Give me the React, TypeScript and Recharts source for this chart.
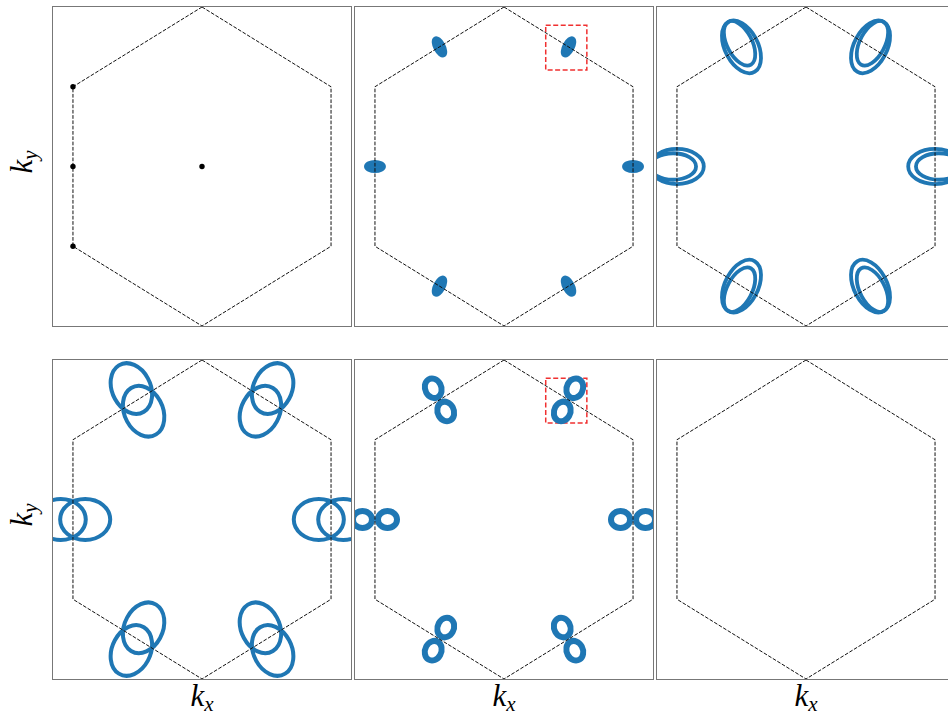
import React from 'react';
import { ScatterChart, Scatter, XAxis, YAxis, ReferenceArea } from 'recharts';

const PANEL_W = 298;
const PANEL_H = 319;
const BLUE = '#1f77b4';

// Brillouin zone boundary, kx and ky in units of the zone radius
const hexagon = [
  { x: 0, y: 1 },
  { x: 0.866, y: 0.5 },
  { x: 0.866, y: -0.5 },
  { x: 0, y: -1 },
  { x: -0.866, y: -0.5 },
  { x: -0.866, y: 0.5 },
  { x: 0, y: 1 },
];

// Gamma, K, M and K' markers
const highSymmetry = [
  { x: 0, y: 0 },
  { x: -0.866, y: 0.5 },
  { x: -0.866, y: 0 },
  { x: -0.866, y: -0.5 },
];

// zone-edge midpoints and their radial direction (deg)
const mPoints = [
  { x: 0.866, y: 0, dir: 0 },
  { x: 0.433, y: 0.75, dir: 60 },
  { x: -0.433, y: 0.75, dir: 120 },
  { x: -0.866, y: 0, dir: 180 },
  { x: -0.433, y: -0.75, dir: 240 },
  { x: 0.433, y: -0.75, dir: 300 },
];

// pocket contours around each M point: radial shift, radial / tangential semi-axes
const pocketsB = [{ shift: 0, a: 0.06, b: 0.028 }];
const pocketsC = [
  { shift: 0, a: 0.18, b: 0.11 },
  { shift: 0.026, a: 0.154, b: 0.083 },
];
const pocketsD = [
  { shift: -0.082, a: 0.168, b: 0.128 },
  { shift: 0.082, a: 0.168, b: 0.128 },
];
const pocketsE = [
  { shift: -0.084, a: 0.064, b: 0.054 },
  { shift: 0.084, a: 0.064, b: 0.054 },
];

const zoomBox = { x1: 0.28, x2: 0.556, y1: 0.605, y2: 0.885 };

const panels = [
  { left: 53, top: 7, pockets: [], lw: 4, filled: false, dots: true, box: false },
  { left: 355, top: 7, pockets: pocketsB, lw: 4, filled: true, dots: false, box: true },
  { left: 657, top: 7, pockets: pocketsC, lw: 3.8, filled: false, dots: false, box: false },
  { left: 53, top: 360, pockets: pocketsD, lw: 4, filled: false, dots: false, box: false },
  { left: 355, top: 360, pockets: pocketsE, lw: 6, filled: false, dots: false, box: true },
  { left: 657, top: 360, pockets: [], lw: 4, filled: false, dots: false, box: false },
];

const buildPockets = (pockets: { shift: number; a: number; b: number }[]) =>
  mPoints.flatMap((m) =>
    pockets.map((p) => {
      const t = (m.dir * Math.PI) / 180;
      return { x: m.x + p.shift * Math.cos(t), y: m.y + p.shift * Math.sin(t), a: p.a, b: p.b, dir: m.dir };
    })
  );

const makeEllipse = (lw: number, filled: boolean) => (props: any) => {
  const { cx, cy, payload } = props;
  if (cx == null || cy == null) return <g />;
  const sx = PANEL_W / 2;
  const sy = PANEL_H / 2;
  return (
    <ellipse
      cx={0}
      cy={0}
      rx={payload.a}
      ry={payload.b}
      transform={`translate(${cx} ${cy}) scale(${sx} ${-sy}) rotate(${payload.dir})`}
      fill={filled ? BLUE : 'none'}
      stroke={BLUE}
      strokeWidth={lw}
      vectorEffect="non-scaling-stroke"
    />
  );
};

const Dot = (props: any) => <circle cx={props.cx} cy={props.cy} r={2.7} fill="#000" />;

function Panel({ cfg }: { cfg: (typeof panels)[number] }) {
  const data = buildPockets(cfg.pockets);
  return (
    <div
      style={{
        position: 'absolute',
        left: cfg.left,
        top: cfg.top,
        width: PANEL_W,
        height: PANEL_H,
        outline: '1px solid #777',
        overflow: 'hidden',
        background: '#fff',
      }}
    >
      <ScatterChart width={PANEL_W} height={PANEL_H} margin={{ top: 0, right: 0, bottom: 0, left: 0 }}>
        <XAxis type="number" dataKey="x" domain={[-1, 1]} allowDataOverflow hide />
        <YAxis type="number" dataKey="y" domain={[-1, 1]} allowDataOverflow hide />
        {data.length > 0 && (
          <Scatter data={data} shape={makeEllipse(cfg.lw, cfg.filled)} isAnimationActive={false} />
        )}
        <Scatter
          data={hexagon}
          line={{ stroke: '#111', strokeWidth: 1, strokeDasharray: '3.7 1.6' }}
          lineType="joint"
          shape={() => <g />}
          isAnimationActive={false}
        />
        {cfg.dots && <Scatter data={highSymmetry} shape={Dot} isAnimationActive={false} />}
        {cfg.box && (
          <ReferenceArea
            x1={zoomBox.x1}
            x2={zoomBox.x2}
            y1={zoomBox.y1}
            y2={zoomBox.y2}
            fill="none"
            stroke="#f03030"
            strokeWidth={1.5}
            strokeDasharray="5 2.5"
            ifOverflow="visible"
          />
        )}
      </ScatterChart>
    </div>
  );
}

const labelFont = { fontFamily: '"Liberation Serif", serif', fontStyle: 'italic' as const };

export default function App() {
  return (
    <div style={{ position: 'absolute', left: 0, top: 0, width: 948, height: 717, overflow: 'hidden', background: '#fff' }}>
      {panels.map((p, i) => (
        <Panel key={i} cfg={p} />
      ))}
      <svg width={948} height={717} style={{ position: 'absolute', left: 0, top: 0, pointerEvents: 'none' }}>
        {[162, 515].map((cy) => (
          <text key={cy} transform={`translate(32 ${cy}) rotate(-90)`} textAnchor="middle" fontSize={31} {...labelFont}>
            k<tspan fontSize={21} dy={5}>y</tspan>
          </text>
        ))}
        {[202, 504, 806].map((cx) => (
          <text key={cx} x={cx} y={706} textAnchor="middle" fontSize={31} {...labelFont}>
            k<tspan fontSize={21} dy={5}>x</tspan>
          </text>
        ))}
      </svg>
    </div>
  );
}
